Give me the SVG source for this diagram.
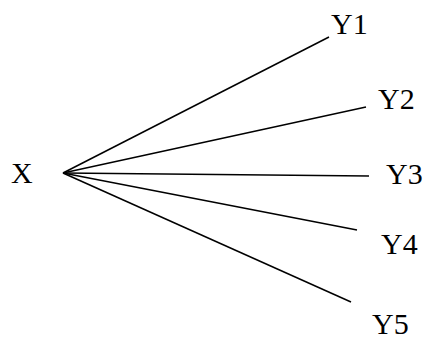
<svg xmlns="http://www.w3.org/2000/svg" width="430" height="340" viewBox="0 0 430 340">
<style>
text{font-family:'Liberation Serif','Times New Roman',serif;font-size:30px;fill:#000}
.c line{stroke:#000;stroke-width:1.5}
</style>
<rect width="430" height="340" fill="#fff"/>
<g class="c" id="connectors">
<line x1="63" y1="173" x2="329" y2="37"/>
<line x1="63" y1="173" x2="366" y2="107"/>
<line x1="63" y1="173" x2="369" y2="176"/>
<line x1="63" y1="173" x2="357" y2="230"/>
<line x1="63" y1="173" x2="351" y2="302"/>
</g>
<g id="X"><text x="11" y="183">X</text></g>
<g id="Y1"><text x="331" y="34">Y1</text></g>
<g id="Y2"><text x="378" y="109">Y2</text></g>
<g id="Y3"><text x="386" y="184">Y3</text></g>
<g id="Y4"><text x="381" y="254">Y4</text></g>
<g id="Y5"><text x="372" y="334">Y5</text></g>
</svg>
